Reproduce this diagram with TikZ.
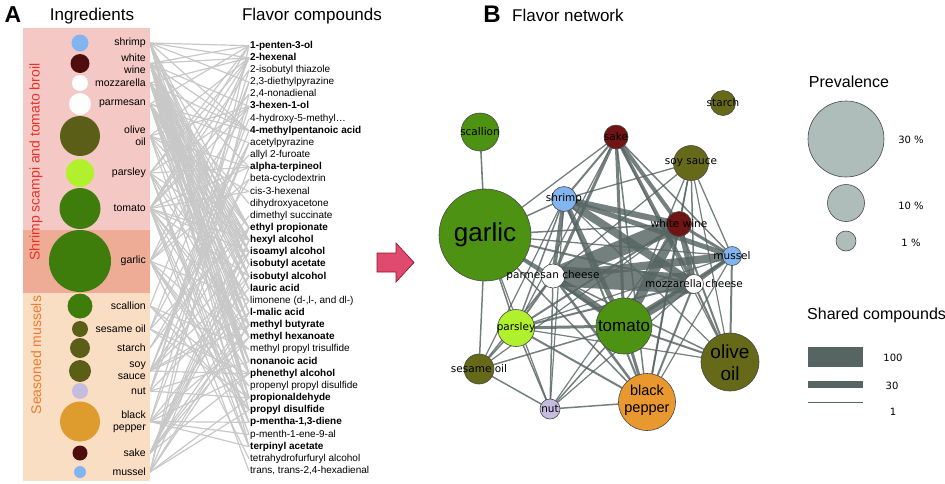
\documentclass[tikz,border=0pt]{standalone}
\usepackage{fontspec}
\setmainfont{Liberation Sans}
\newfontfamily\dejavu{DejaVu Sans}
\usetikzlibrary{positioning}
\pgfdeclarelayer{background}
\pgfsetlayers{background,main}

\definecolor{pinkbg}{RGB}{244,200,196}
\definecolor{salmonbg}{RGB}{238,172,150}
\definecolor{peachbg}{RGB}{250,222,196}
\definecolor{scampired}{RGB}{232,50,42}
\definecolor{musselorange}{RGB}{240,122,42}
\definecolor{linkgray}{RGB}{200,200,200}
\definecolor{shrimpblue}{RGB}{130,180,240}
\definecolor{winered}{RGB}{78,14,14}
\definecolor{olivegreen}{RGB}{90,94,22}
\definecolor{parsleygreen}{RGB}{176,240,44}
\definecolor{leafgreen}{RGB}{62,125,12}
\definecolor{nutlilac}{RGB}{198,188,224}
\definecolor{pepperorange}{RGB}{222,156,46}
\definecolor{netgreen}{RGB}{78,146,20}
\definecolor{netolive}{RGB}{102,106,24}
\definecolor{netred}{RGB}{112,20,20}
\definecolor{netorange}{RGB}{232,152,46}
\definecolor{edgegray}{RGB}{86,100,98}
\definecolor{nodeborder}{RGB}{70,74,74}
\definecolor{legendfill}{RGB}{174,188,186}
\definecolor{arrowpink}{RGB}{224,74,110}
\definecolor{arrowrim}{RGB}{150,20,45}

\tikzset{
  titlefont/.style={font=\fontsize{17}{17}\selectfont, inner sep=0pt},
  ing/.style={circle, inner sep=0pt},
  inglab/.style={anchor=east, align=right, inner sep=0pt, font=\fontsize{10.5}{12}\selectfont},
  comp/.style={anchor=west, inner sep=1pt, text height=7.2pt, text depth=2.2pt, font=\fontsize{10}{10}\selectfont},
  link/.style={draw=linkgray, line width=1.2pt},
  fnode/.style={circle, draw=nodeborder, line width=0.6pt, inner sep=0pt},
  flab/.style={inner sep=0pt, font=\dejavu\fontsize{10.5}{10.5}\selectfont},
  biglab/.style={inner sep=0pt, align=center, font=\fontsize{#1}{#1}\selectfont},
  edge/.style={draw=edgegray, line width=#1, opacity=0.82},
  legtxt/.style={inner sep=0pt, font=\dejavu\fontsize{10}{10}\selectfont},
}

\begin{document}
\begin{tikzpicture}[x=1pt,y=-1pt]
\useasboundingbox (0,0) rectangle (945,483);

% panel A: headings
\node[font=\bfseries\fontsize{23}{23}\selectfont, inner sep=0pt] (lblA) at (13,15) {A};
\node[titlefont] (ttlIng) at (92,16) {Ingredients};
\node[titlefont] (ttlComp) at (312,16) {Flavor compounds};

% recipe bands
\fill[pinkbg] (23,28) rectangle (150,230);
\fill[salmonbg] (23,230) rectangle (150,293);
\fill[peachbg] (23,293) rectangle (150,481);
\node[rotate=90, text=scampired, inner sep=0pt, font=\fontsize{14}{14}\selectfont] (recipeA) at (36,162) {Shrimp scampi and tomato broil};
\node[rotate=90, text=musselorange, inner sep=0pt, font=\fontsize{14}{14}\selectfont] (recipeB) at (36,355) {Seasoned mussels};

% ingredients
\foreach \nm/\yy/\r/\col/\txt in {
  shrimp/43/8.5/shrimpblue/shrimp,
  wine/63.5/9.5/winered/{white\\wine},
  mozz/83/8/white/mozzarella,
  parm/104/11/white/parmesan,
  olive/136/20/olivegreen/{olive\\oil},
  parsley/173/14/parsleygreen/parsley,
  tomato/208.5/20.5/leafgreen/tomato,
  garlic/261/31/leafgreen/garlic,
  scallion/306/12.5/leafgreen/scallion,
  sesame/329/8/olivegreen/{sesame oil},
  starch/348/10/olivegreen/starch,
  soy/371/11/olivegreen/{soy\\sauce},
  nut/391/8/nutlilac/nut,
  pepper/421.5/20/pepperorange/{black\\pepper},
  sake/453/7.5/winered/sake,
  mussel/472/6/shrimpblue/mussel}
{
  \node[ing, fill=\col, minimum size=2*\r*1pt] (i-\nm) at (80,\yy) {};
  \node[inglab] (l-\nm) at (146,\yy) {\txt};
  \coordinate (a-\nm) at (150,\yy);
}

% flavor compounds
\foreach \txt [count=\k] in {
  {\textbf{1-penten-3-ol}}, {\textbf{2-hexenal}}, {2-isobutyl thiazole},
  {2,3-diethylpyrazine}, {2,4-nonadienal}, {\textbf{3-hexen-1-ol}},
  {4-hydroxy-5-methyl\ldots}, {\textbf{4-methylpentanoic acid}}, {acetylpyrazine},
  {allyl 2-furoate}, {\textbf{alpha-terpineol}}, {beta-cyclodextrin},
  {cis-3-hexenal}, {dihydroxyacetone}, {dimethyl succinate},
  {\textbf{ethyl propionate}}, {\textbf{hexyl alcohol}}, {\textbf{isoamyl alcohol}},
  {\textbf{isobutyl acetate}}, {\textbf{isobutyl alcohol}}, {\textbf{lauric acid}},
  {limonene (d-,l-, and dl-)}, {\textbf{l-malic acid}}, {\textbf{methyl butyrate}},
  {\textbf{methyl hexanoate}}, {methyl propyl trisulfide}, {\textbf{nonanoic acid}},
  {\textbf{phenethyl alcohol}}, {propenyl propyl disulfide}, {\textbf{propionaldehyde}},
  {\textbf{propyl disulfide}}, {\textbf{p-mentha-1,3-diene}}, {p-menth-1-ene-9-al},
  {\textbf{terpinyl acetate}}, {tetrahydrofurfuryl alcohol}, {trans, trans-2,4-hexadienal}}
  \node[comp] (c\k) at (249,{45.7+(\k-1)*12.15}) {\txt};

% ingredient -- compound links
\begin{pgfonlayer}{background}
\foreach \nm/\lst in {
  shrimp/{1,2,4,8,16,18,19,20,24,28,30,31},
  wine/{1,2,6,8,11,16,17,18,19,20,21,23,24,25,27,28,30,34},
  mozz/{2,8,14,16,17,18,19,20,21,23,24,25,27,28,30},
  parm/{1,8,9,16,17,18,19,20,21,24,25,27,28,30,31},
  olive/{2,6,11,13,17,22,27,32},
  parsley/{1,2,6,11,17,22,25,32,33,34},
  tomato/{1,2,3,5,6,11,13,17,18,20,24,25,28,32,34,36},
  garlic/{2,6,10,12,22,26,29,30,31,35},
  scallion/{2,26,29,31},
  sesame/{4,9,16,28,30},
  starch/{12,15},
  soy/{7,8,9,16,18,20,23,24,28},
  nut/{3,4,9,21,27,30},
  pepper/{6,11,22,25,28,32,33,34},
  sake/{16,17,18,19,20,23,24,25,28},
  mussel/{1,5,17,23,24,30,31}}
  \foreach \k in \lst
    \draw[link] (a-\nm) -- (c\k.west);
\end{pgfonlayer}

% arrow between panels
\filldraw[fill=arrowpink, draw=arrowrim, line width=0.7pt]
  (377,253) -- (396,253) -- (396,243) -- (414,262.5) -- (396,282) -- (396,272) -- (377,272) -- cycle;

% panel B: heading
\node[font=\bfseries\fontsize{24}{24}\selectfont, inner sep=0pt] (lblB) at (492,14) {B};
\node[titlefont, anchor=west] (ttlNet) at (512,15) {Flavor network};

% network nodes
\node[fnode, fill=netgreen, minimum size=38pt] (n-scallion) at (480,132) {};
\node[fnode, fill=netgreen, minimum size=92pt] (n-garlic) at (485,235) {};
\node[fnode, fill=netred, minimum size=24pt] (n-sake) at (616,137) {};
\node[fnode, fill=netolive, minimum size=35pt] (n-soysauce) at (691,163) {};
\node[fnode, fill=netolive, minimum size=25pt] (n-starch) at (723,103) {};
\node[fnode, fill=shrimpblue, minimum size=25pt] (n-shrimp) at (564,199) {};
\node[fnode, fill=netred, minimum size=25pt] (n-whitewine) at (679,224) {};
\node[fnode, fill=shrimpblue, minimum size=19pt] (n-mussel) at (732,256) {};
\node[fnode, fill=white, minimum size=24pt] (n-parmesan) at (553,276) {};
\node[fnode, fill=white, minimum size=19pt] (n-mozzarella) at (694,284) {};
\node[fnode, fill=parsleygreen, minimum size=37pt] (n-parsley) at (516,328) {};
\node[fnode, fill=netgreen, minimum size=56pt] (n-tomato) at (624,326) {};
\node[fnode, fill=netolive, minimum size=58pt] (n-oliveoil) at (730,362) {};
\node[fnode, fill=netolive, minimum size=30pt] (n-sesameoil) at (479,369) {};
\node[fnode, fill=nutlilac, minimum size=20pt] (n-nut) at (550,409) {};
\node[fnode, fill=netorange, minimum size=57pt] (n-pepper) at (647,402) {};

% shared compound edges
\begin{pgfonlayer}{background}
\foreach \a/\b/\w in {
  parmesan/mozzarella/20, parmesan/whitewine/16, shrimp/mozzarella/8,
  shrimp/whitewine/6, tomato/whitewine/10, tomato/mozzarella/9,
  parmesan/tomato/7, shrimp/tomato/5, mozzarella/whitewine/5,
  parmesan/mussel/8, shrimp/mussel/5, tomato/mussel/3,
  whitewine/mussel/3, mozzarella/mussel/3.5, shrimp/parmesan/4,
  sake/whitewine/4, sake/mozzarella/3.5, sake/parmesan/3,
  sake/tomato/3, shrimp/sake/2,
  garlic/scallion/1.6, garlic/sake/1.3, garlic/shrimp/1.5,
  garlic/whitewine/1.5, garlic/mussel/1.3, garlic/mozzarella/2,
  garlic/parmesan/2, garlic/tomato/2.5, garlic/parsley/1.5,
  garlic/sesameoil/1.5, garlic/nut/1.2, garlic/pepper/1.5,
  parsley/tomato/3, parsley/parmesan/2, parsley/mozzarella/2,
  parsley/whitewine/2, parsley/shrimp/1.5, parsley/sesameoil/1.5,
  parsley/nut/1.5, parsley/pepper/2, parsley/mussel/1.2,
  sesameoil/parmesan/1.5, sesameoil/tomato/1.5, sesameoil/shrimp/1.2,
  sesameoil/whitewine/1.2, sesameoil/nut/1.5,
  nut/parmesan/1.5, nut/tomato/1.5, nut/shrimp/1.2,
  nut/whitewine/1.2, nut/mozzarella/1.2, nut/pepper/1.5,
  pepper/tomato/3, pepper/parmesan/2.5, pepper/mozzarella/2,
  pepper/whitewine/2, pepper/shrimp/2, pepper/sake/1.5,
  pepper/soysauce/1.2, pepper/mussel/1.2,
  oliveoil/tomato/2, oliveoil/whitewine/2, oliveoil/mozzarella/2,
  oliveoil/mussel/2, oliveoil/parmesan/1.5, oliveoil/sake/1.2,
  oliveoil/soysauce/1.2, oliveoil/shrimp/1.2, oliveoil/parsley/1.2,
  soysauce/shrimp/1.3, soysauce/whitewine/1.5, soysauce/mozzarella/1.5,
  soysauce/mussel/1.3, soysauce/tomato/1.3, soysauce/parmesan/1.3,
  sake/mussel/1.5, sake/parsley/1.2}
  \draw[edge=\w pt] (n-\a.center) -- (n-\b.center);
\end{pgfonlayer}

% network labels
\node[flab] (t-scallion) at (n-scallion) {scallion};
\node[biglab=26] (t-garlic) at (n-garlic) {garlic};
\node[flab] (t-sake) at (n-sake) {sake};
\node[flab] (t-soysauce) at (n-soysauce) {soy sauce};
\node[flab] (t-starch) at (n-starch) {starch};
\node[flab] (t-shrimp) at (n-shrimp) {shrimp};
\node[flab] (t-whitewine) at (n-whitewine) {white wine};
\node[flab] (t-mussel) at (n-mussel) {mussel};
\node[flab] (t-parmesan) at (n-parmesan) {parmesan cheese};
\node[flab] (t-mozzarella) at (n-mozzarella) {mozzarella cheese};
\node[flab] (t-parsley) at (n-parsley) {parsley};
\node[biglab=17] (t-tomato) at (n-tomato) {tomato};
\node[biglab=19] (t-oliveoil) at ([yshift=-1pt]n-oliveoil) {olive\\[3pt]oil};
\node[biglab=14.5] (t-pepper) at ([yshift=1.5pt]n-pepper) {black\\[2.5pt]pepper};
\node[flab] (t-sesameoil) at (n-sesameoil) {sesame oil};
\node[flab] (t-nut) at (n-nut) {nut};

% legend: prevalence
\node[titlefont, font=\fontsize{16}{16}\selectfont] (ttlPrev) at (849,82) {Prevalence};
\node[fnode, fill=legendfill, minimum size=76pt] (p30) at (846,139) {};
\node[fnode, fill=legendfill, minimum size=37pt] (p10) at (846,203) {};
\node[fnode, fill=legendfill, minimum size=20pt] (p1) at (846,241) {};
\node[legtxt] (p30lab) at (911,140) {30 \%};
\node[legtxt] (p10lab) at (911,206) {10 \%};
\node[legtxt] (p1lab) at (911,243) {1 \%};

% legend: shared compounds
\node[titlefont, font=\fontsize{16}{16}\selectfont, anchor=west] (ttlShared) at (807,315) {Shared compounds};
\fill[edgegray] (808,347) rectangle (863,367);
\fill[edgegray] (808,381) rectangle (863,387.5);
\fill[edgegray] (808,401.5) rectangle (863,402.7);
\node[legtxt] (s100lab) at (893,358) {100};
\node[legtxt] (s30lab) at (892,386) {30};
\node[legtxt] (s1lab) at (893,412) {1};
\end{tikzpicture}
\end{document}
